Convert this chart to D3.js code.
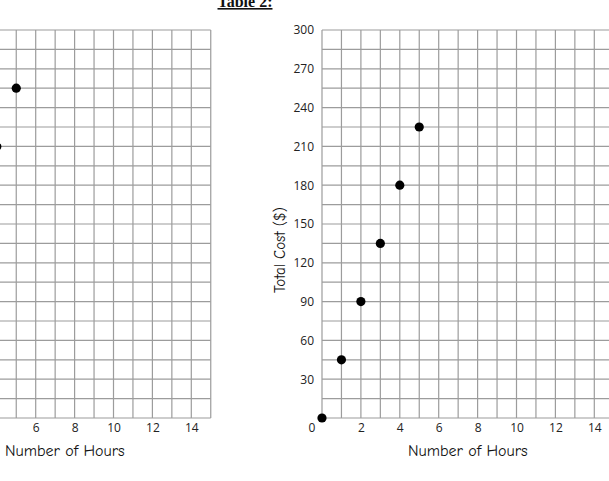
<!DOCTYPE html>
<meta charset="utf-8">
<style>
body {
  background: #fff;
  margin: 0;
  padding: 0;
  overflow: hidden;
}
.grid line {
  stroke: #9c9c9c;
  stroke-width: 1.2px;
}
.tick text {
  font-family: "Open Sans", "DejaVu Sans", sans-serif;
  font-size: 12px;
  fill: #222;
}
.domain {
  display: none;
}
.title {
  font-family: "Liberation Serif", "Times New Roman", serif;
  font-weight: bold;
  font-size: 16px;
  text-decoration: underline;
  fill: #111;
}
.axis-label {
  font-family: "Comic Sans MS", "Comic Neue", "Open Sans", sans-serif;
  font-size: 16px;
  fill: #111;
}
.dot {
  fill: #000;
}
</style>
<body></body>
<script src="https://cdn.jsdelivr.net/npm/d3@7"></script>
<script>
// right panel (fully visible)
var hours = [0, 1, 2, 3, 4, 5];
var totalCost = [0, 45, 90, 135, 180, 225];

// left panel, only the last two points show at the page edge
var leftHours = [4, 5];
var leftCost = [140, 170];

var xTicks = [2, 4, 6, 8, 10, 12, 14];
var yTicks = [30, 60, 90, 120, 150, 180, 210, 240, 270, 300];

var width = 609,
    height = 481;

var svg = d3.select("body").append("svg")
    .attr("width", width)
    .attr("height", height);

var cell = 19.45,
    gridTop = 30,
    gridBottom = 418;

svg.append("text")
    .attr("class", "title")
    .attr("x", 245)
    .attr("y", 7)
    .attr("text-anchor", "middle")
    .text("Table 2:");

function drawPanel(x0, yMax, xs, ys, showY) {
  var x = d3.scaleLinear().domain([0, 15]).range([x0, x0 + 15 * cell]);
  var y = d3.scaleLinear().domain([0, yMax]).range([gridBottom, gridTop]);
  var g = svg.append("g");

  var grid = g.append("g").attr("class", "grid");
  grid.selectAll(".v")
      .data(d3.range(0, 16))
    .enter().append("line")
      .attr("class", "v")
      .attr("x1", function(d) { return x(d); })
      .attr("x2", function(d) { return x(d); })
      .attr("y1", gridTop)
      .attr("y2", gridBottom);
  grid.selectAll(".h")
      .data(d3.range(0, 21).map(function(i) { return i * yMax / 20; }))
    .enter().append("line")
      .attr("class", "h")
      .attr("x1", x(0))
      .attr("x2", x(15))
      .attr("y1", function(d) { return y(d); })
      .attr("y2", function(d) { return y(d); });

  // labels that would sit past the page edge are left out
  var shownTicks = xTicks.filter(function(d) { return x(d) > 8; });
  g.append("g")
      .attr("transform", "translate(0," + gridBottom + ")")
      .call(d3.axisBottom(x).tickValues(shownTicks).tickSize(0).tickPadding(5));

  if (showY) {
    g.append("g")
        .attr("transform", "translate(" + x0 + ",0)")
        .call(d3.axisLeft(y).tickValues(yTicks).tickSize(0).tickPadding(8));
    g.append("text")
        .attr("x", x0 - 10)
        .attr("y", gridBottom + 14)
        .attr("text-anchor", "middle")
        .style("font-family", "'Open Sans', sans-serif")
        .style("font-size", "12px")
        .style("fill", "#222")
        .text("0");
    g.append("text")
        .attr("class", "axis-label")
        .attr("transform", "translate(" + (x0 - 37) + "," + 250 + ") rotate(-90)")
        .attr("text-anchor", "middle")
        .style("font-size", "15px")
        .text("Total Cost ($)");
  }

  g.append("text")
      .attr("class", "axis-label")
      .attr("x", (x(0) + x(15)) / 2)
      .attr("y", 456)
      .attr("text-anchor", "middle")
      .text("Number of Hours");

  g.selectAll(".dot")
      .data(xs)
    .enter().append("circle")
      .attr("class", "dot")
      .attr("cx", function(d) { return x(d); })
      .attr("cy", function(d, i) { return y(ys[i]); })
      .attr("r", 4.6);
}

drawPanel(-81, 200, leftHours, leftCost, false);
drawPanel(322, 300, hours, totalCost, true);
</script>
